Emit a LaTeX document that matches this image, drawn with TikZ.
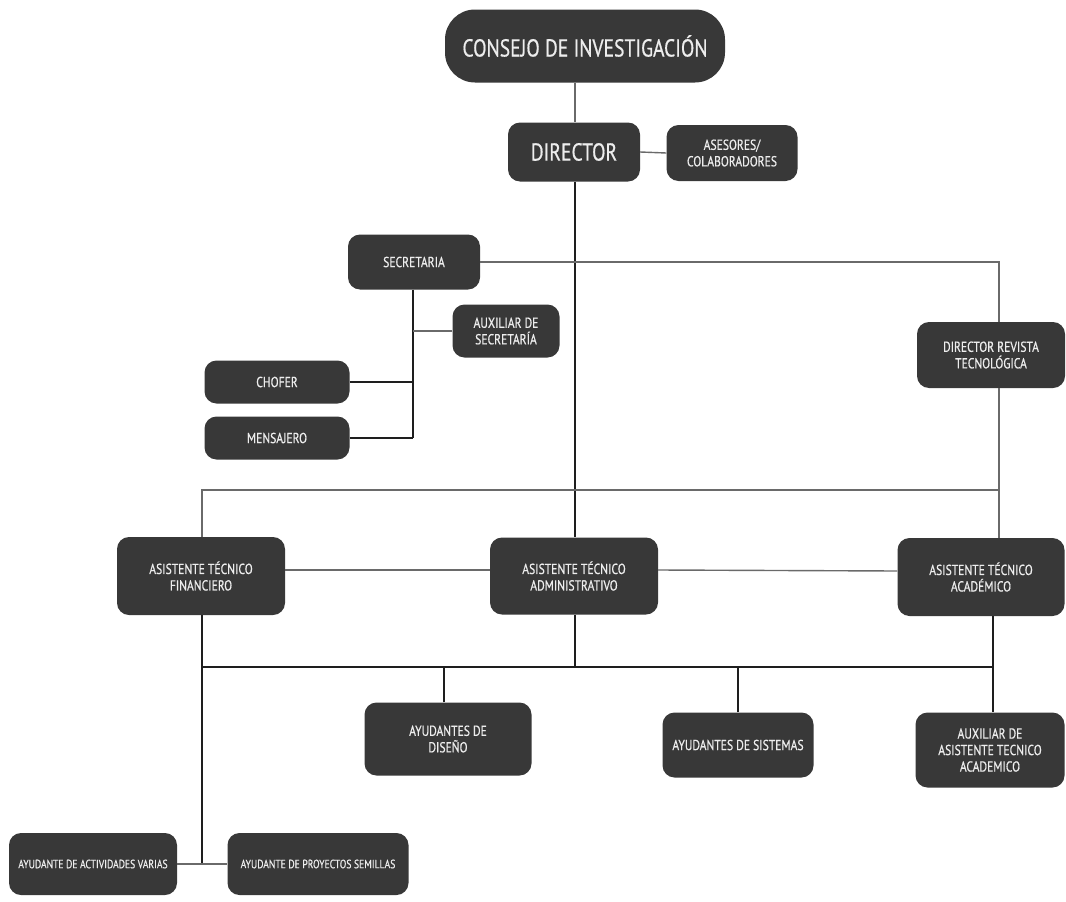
\documentclass[tikz,border=0pt]{standalone}
\usepackage{fontspec}
\setmainfont{PT Sans}[FakeStretch=0.8, FakeBold=0.6]
\definecolor{boxfill}{HTML}{383838}
\definecolor{boxtext}{HTML}{EDEDED}
\definecolor{darkline}{HTML}{1E1E1E}
\definecolor{greyline}{HTML}{6A6A6A}
\tikzset{
  unit/.style={draw=none, fill=boxfill, text=boxtext, rounded corners=12pt,
    align=center, inner sep=2pt, font=\fontsize{14.5}{16.5}\selectfont},
  bigunit/.style={unit, font=\fontsize{24.5}{28}\selectfont},
  smallunit/.style={unit, font=\fontsize{12}{14}\selectfont},
  dk/.style={draw=darkline, line width=1.4pt},
  gy/.style={draw=greyline, line width=1.4pt},
}
\begin{document}
\begin{tikzpicture}[x=1pt, y=-1pt]
\useasboundingbox (0,0) rectangle (1066,902);

% units
\node[bigunit, rounded corners=30pt, minimum width=280pt, minimum height=73pt] (consejo) at (585,46) {CONSEJO DE INVESTIGACIÓN};
\node[bigunit, minimum width=132pt, minimum height=59pt] (director) at (574,152) {DIRECTOR};
\node[unit, minimum width=131pt, minimum height=56pt] (asesores) at (732,153) {ASESORES/\\COLABORADORES};
\node[unit, minimum width=132pt, minimum height=55pt] (secretaria) at (414,262) {SECRETARIA};
\node[unit, minimum width=107pt, minimum height=53pt] (auxsec) at (506,331) {AUXILIAR DE\\SECRETARÍA};
\node[unit, minimum width=145pt, minimum height=43pt] (chofer) at (277,382) {CHOFER};
\node[unit, minimum width=145pt, minimum height=43pt] (mensajero) at (277,438) {MENSAJERO};
\node[unit, minimum width=148pt, minimum height=66pt] (revista) at (991,355) {DIRECTOR REVISTA\\TECNOLÓGICA};
\node[unit, minimum width=168pt, minimum height=78pt] (financiero) at (201,576) {ASISTENTE TÉCNICO\\FINANCIERO};
\node[unit, minimum width=168pt, minimum height=77pt] (administrativo) at (574,576) {ASISTENTE TÉCNICO\\ADMINISTRATIVO};
\node[unit, minimum width=167pt, minimum height=78pt] (academico) at (981,577) {ASISTENTE TÉCNICO\\ACADÉMICO};
\node[unit, minimum width=167pt, minimum height=73pt] (diseno) at (448,739) {AYUDANTES DE\\DISEÑO};
\node[unit, minimum width=151pt, minimum height=65pt] (sistemas) at (738,745) {AYUDANTES DE SISTEMAS};
\node[unit, minimum width=149pt, minimum height=75pt] (auxacad) at (990,750) {AUXILIAR DE\\ASISTENTE TECNICO\\ACADEMICO};
\node[smallunit, minimum width=168pt, minimum height=62pt] (varias) at (93,864) {AYUDANTE DE ACTIVIDADES VARIAS};
\node[smallunit, minimum width=181pt, minimum height=62pt] (semillas) at (318,864) {AYUDANTE DE PROYECTOS SEMILLAS};

% junction points
\coordinate (dirline) at (575,0);
\coordinate (secbus) at (413,0);
\coordinate (revline) at (999,0);
\coordinate (topbus) at (0,490);
\coordinate (finline) at (202,0);
\coordinate (lowbus) at (0,667);
\coordinate (acadline) at (993,0);
\coordinate (endsec) at (413,438);

% connectors
\draw[gy] (dirline |- consejo.south) -- (dirline |- director.north);
\draw[gy] (director.east) -- (asesores.west);
\draw[dk] (dirline |- director.south) -- (dirline |- administrativo.north);
\draw[gy] (secretaria.east) -- (revline |- secretaria.east) -- (revline |- revista.north);
\draw[gy] (revline |- revista.south) -- (revline |- academico.north);
\draw[gy] (finline |- financiero.north) -- (finline |- topbus) -- (revline |- topbus);
\draw[dk] (secbus |- secretaria.south) -- (endsec);
\draw[gy] (auxsec.west) -- (secbus |- auxsec.west);
\draw[dk] (chofer.east) -- (secbus |- chofer.east);
\draw[dk] (mensajero.east) -- (endsec);
\draw[gy] ([yshift=6pt]financiero.east) -- ([yshift=6pt]administrativo.west);
\draw[gy] ([yshift=6pt]administrativo.east) -- ([yshift=6pt]academico.west);
\draw[dk] (finline |- financiero.south) -- (finline |- varias.east);
\draw[gy] (varias.east) -- (semillas.west);
\draw[dk] (finline |- lowbus) -- (acadline |- lowbus);
\draw[dk] (dirline |- administrativo.south) -- (dirline |- lowbus);
\draw[dk] (acadline |- academico.south) -- (acadline |- auxacad.north);
\draw[dk] (diseno.north -| 444,0) -- (444,667);
\draw[dk] (sistemas.north) -- (sistemas.north |- lowbus);
\end{tikzpicture}
\end{document}
